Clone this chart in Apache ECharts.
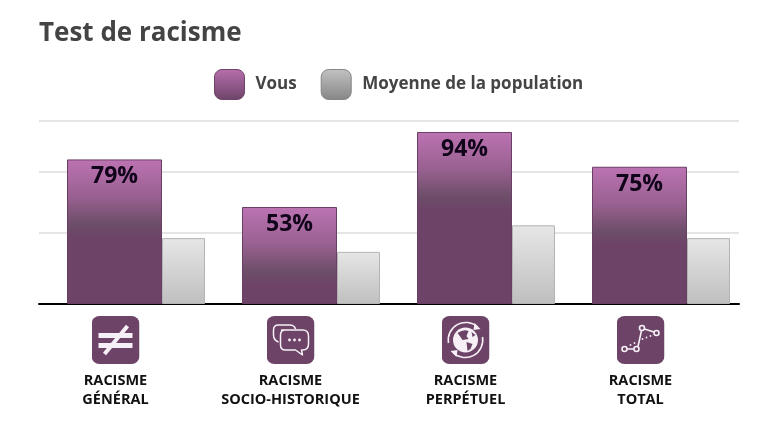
<!DOCTYPE html>
<html><head><meta charset="utf-8">
<style>html,body{margin:0;padding:0;background:#fff}#c{width:763px;height:431px}</style>
<script src="https://cdn.jsdelivr.net/npm/echarts@6/dist/echarts.min.js"></script>
</head><body><div id="c"></div>
<script>
const titleText = 'Test de racisme';
const categories = ['RACISME\nGÉNÉRAL', 'RACISME\nSOCIO-HISTORIQUE', 'RACISME\nPERPÉTUEL', 'RACISME\nTOTAL'];
const seriesNames = ['Vous', 'Moyenne de la population'];
const vous = [79, 53, 94, 75];
const moyenne = [36, 28.5, 43, 36];
const gridValues = [39, 72.5, 100];

const P = '#6d4468', W = '#f6eff5';
const wrap = b => 'data:image/svg+xml;charset=utf-8,' + encodeURIComponent(
  '<svg xmlns="http://www.w3.org/2000/svg" width="192" height="192" viewBox="0 0 48 48">' +
  '<rect width="48" height="48" rx="8" fill="' + P + '"/>' + b + '</svg>');
const icons = [
  wrap('<rect x="7" y="17" width="34" height="5" fill="' + W + '"/><rect x="7" y="27" width="34" height="5" fill="' + W + '"/><path d="M36 10 L13 38" stroke="' + W + '" stroke-width="4"/>'),
  wrap('<g fill="none" stroke="' + W + '" stroke-width="1.5" stroke-linejoin="round"><path d="M12 26 Q7 24 7 19 V14 Q7 9 12 9 H23 Q28 9 29 13"/><path d="M15 14 H36 Q42 14 42 20 V28 Q42 34 36 34 H35 L36 39 L29 34 H19 Q14 34 14 29 V19 Q14 14 19 14 Z" fill="' + P + '"/></g><g fill="' + W + '"><circle cx="23" cy="24" r="1.4"/><circle cx="28" cy="24" r="1.4"/><circle cx="33" cy="24" r="1.4"/></g>'),
  wrap('<circle cx="24" cy="24" r="12.5" fill="' + W + '"/><path d="M16 17 Q22 13 27 15 L25 20 L27 23 L21 24 L19 21 Z M25 26 L31 28 L29 33 L26 35 Z M30 16 L34 19 L31 21 Z" fill="' + P + '"/><g fill="none" stroke="' + W + '" stroke-width="1.6"><path d="M7 27 A17.5 17.5 0 0 1 36 11"/><path d="M41 21 A17.5 17.5 0 0 1 12 37"/></g><path d="M33 7 L39 13 L32 14 Z M15 41 L9 35 L16 34 Z" fill="' + W + '"/>'),
  wrap('<g fill="none" stroke="' + W + '" stroke-width="1.6"><path d="M10.5 33 H17.5 M21.5 30.5 L25 14.5 M28 13 L37.5 16"/><circle cx="8" cy="33" r="2.5"/><circle cx="20" cy="33" r="2.5"/><circle cx="25.5" cy="12" r="2.5"/><circle cx="40" cy="17" r="2.5"/></g><g fill="' + W + '"><circle cx="14" cy="29" r=".9"/><circle cx="18" cy="27" r=".9"/><circle cx="26" cy="23" r=".9"/><circle cx="30" cy="21.5" r=".9"/><circle cx="34" cy="20" r=".9"/></g>')
];

const vGrad = v => {
  const s = Math.min(1, 42 / v);
  return new echarts.graphic.LinearGradient(0, 0, 0, 1, [
    {offset: 0, color: '#bc73b2'},
    {offset: s * 0.5, color: '#97608f'},
    {offset: s * 0.85, color: '#6c4d68'},
    {offset: s, color: '#6d4468'},
    {offset: 1, color: '#6d4468'}]);
};
const gGrad = new echarts.graphic.LinearGradient(0, 0, 0, 1, [
  {offset: 0, color: '#e6e6e6'}, {offset: 1, color: '#bfbfbf'}]);
const legendPurple = new echarts.graphic.LinearGradient(0, 0, 0, 1, [
  {offset: 0, color: '#b86fae'}, {offset: 1, color: '#6d4468'}]);
const legendGrey = new echarts.graphic.LinearGradient(0, 0, 0, 1, [
  {offset: 0, color: '#c2c2c2'}, {offset: 1, color: '#868686'}]);

const rich = {
  t: {fontFamily: 'Open Sans', fontWeight: 'bold', fontSize: 14.5, color: '#111', lineHeight: 19, padding: [0, 22, 0, 0]},
  g: {fontSize: 4, lineHeight: 7, padding: [0, 22, 0, 0]},
  s: {width: 22, height: 48}
};
icons.forEach((src, i) => {
  rich['i' + i] = {width: 48, height: 48, backgroundColor: {image: src}};
});

const chart = echarts.init(document.getElementById('c'), null, {renderer: 'canvas'});
chart.setOption({
  animation: false,
  backgroundColor: '#fff',
  title: {text: titleText, left: 39, top: 21, padding: 0,
    textStyle: {fontFamily: 'Open Sans', fontWeight: 'bold', fontSize: 26, color: '#444'}},
  legend: {
    left: 214, top: 69, padding: 0, itemWidth: 30, itemHeight: 30, itemGap: 24, icon: 'roundRect', selectedMode: false,
    textStyle: {fontFamily: 'Open Sans', fontWeight: 'bold', fontSize: 17, color: '#444', padding: [6, 0, 0, 6]},
    data: [
      {name: seriesNames[0], itemStyle: {color: legendPurple, borderColor: '#6d4468', borderWidth: 1}},
      {name: seriesNames[1], itemStyle: {color: legendGrey, borderColor: '#858585', borderWidth: 1}}]
  },
  grid: {left: 39, top: 121, width: 700, bottom: 127, containLabel: false},
  xAxis: {
    type: 'category', data: categories,
    axisTick: {show: false},
    axisLine: {lineStyle: {color: '#000', width: 2}},
    axisLabel: {
      interval: 0, margin: 12, align: 'center', verticalAlign: 'top', rich,
      formatter: (val, i) => '{i' + i + '|}{s|}\n{g| }\n' + val.split('\n').map(s => '{t|' + s + '}').join('\n')
    }
  },
  yAxis: {
    type: 'value', min: 0, max: 100, show: true,
    axisLine: {show: false}, axisLabel: {show: false},
    axisTick: {show: false, customValues: gridValues},
    splitLine: {show: true, lineStyle: {color: '#dcdcdc', width: 1.5}}
  },
  series: [
    {type: 'bar', name: '_', barWidth: 19, barGap: 0, data: [], silent: true},
    {type: 'bar', name: seriesNames[0], barWidth: 95, barGap: 0,
      data: vous.map(v => ({value: v, itemStyle: {color: vGrad(v)}})),
      itemStyle: {color: '#6d4468', borderColor: '#6a3f66', borderWidth: 1},
      label: {show: true, position: 'insideTop', distance: 6, formatter: '{c}%',
        fontFamily: 'Open Sans', fontWeight: 'bold', fontSize: 23, color: '#10041a'}},
    {type: 'bar', name: seriesNames[1], barWidth: 43, barGap: 0,
      data: moyenne,
      itemStyle: {color: gGrad, borderColor: '#b4b4b4', borderWidth: 1}}
  ]
});
</script></body></html>
